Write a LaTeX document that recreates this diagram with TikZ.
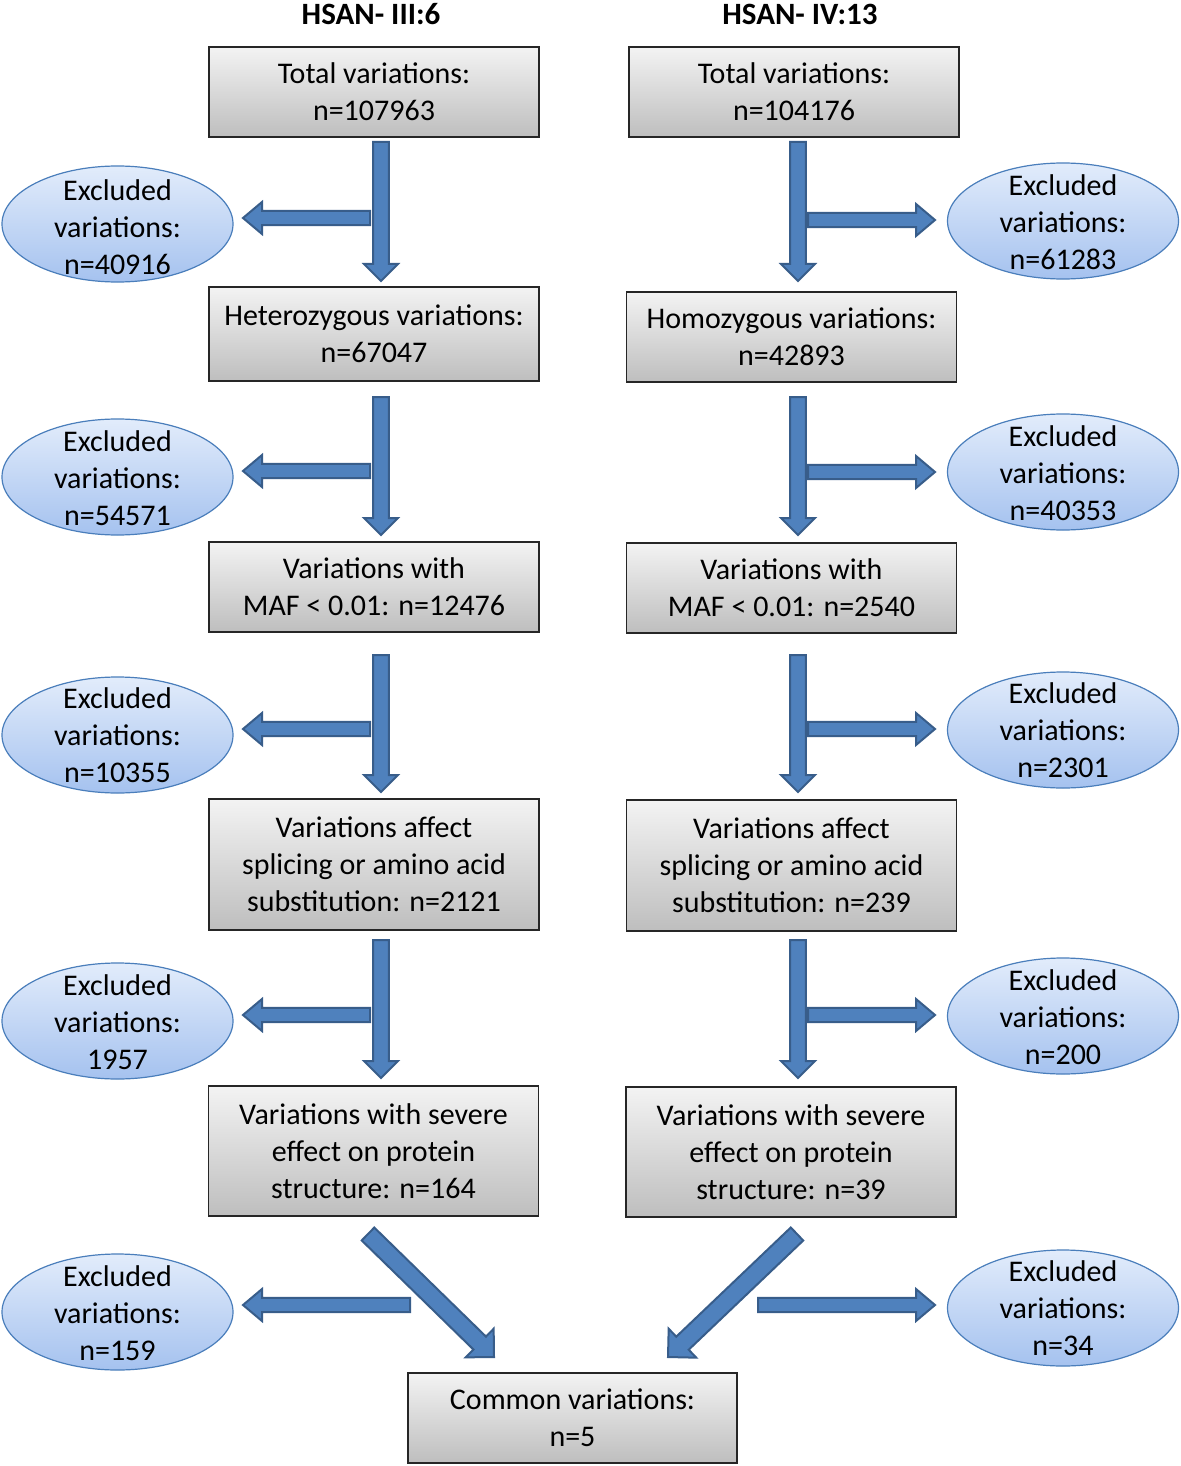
\documentclass[tikz,border=0pt]{standalone}
\usepackage{fontspec}
\setmainfont{Carlito}
\usetikzlibrary{shapes.geometric,calc}
\definecolor{boxtop}{HTML}{F3F3F3}
\definecolor{boxbot}{HTML}{BEBEBE}
\definecolor{elltop}{HTML}{E2ECFB}
\definecolor{ellbot}{HTML}{A5C2EF}
\definecolor{ellline}{HTML}{4A7EBB}
\definecolor{arrfill}{HTML}{4F81BD}
\definecolor{arrline}{HTML}{385D8A}
\tikzset{
  box/.style={draw=black!85, line width=0.8pt, top color=boxtop, bottom color=boxbot,
    minimum width=165pt, inner sep=0pt, align=center, font=\fontsize{15}{18.5}\selectfont},
  excl/.style={ellipse, draw=ellline, line width=0.6pt, top color=elltop, bottom color=ellbot,
    minimum width=115.5pt, minimum height=58pt, inner sep=0pt},
  extext/.style={inner sep=0pt, align=center, font=\fontsize{15}{18.5}\selectfont},
  head/.style={inner sep=0pt, font=\fontsize{15.5}{18}\selectfont\bfseries},
  blockarrow/.style={fill=arrfill, draw=arrline, line width=1pt, line join=miter}
}
\newcommand\blockarr[5]{%
  \path ($(#2)!#5!(#1)$) coordinate (hb);
  \filldraw[blockarrow] ($(#1)!#3!90:(#2)$) -- ($(hb)!#3!90:(#2)$) -- ($(hb)!#4!90:(#2)$) -- (#2)
    -- ($(hb)!#4!-90:(#2)$) -- ($(hb)!#3!-90:(#2)$) -- ($(#1)!#3!-90:(#2)$) -- cycle;}
\begin{document}
\begin{tikzpicture}[x=0.5pt,y=-0.5pt]
\useasboundingbox (0,0) rectangle (1181,1466);
\fill[white] (0,0) rectangle (1181,1466);
% headers
\node[head] (hl) at (371,14) {HSAN- III:6};
\node[head] (hr) at (800,14) {HSAN- IV:13};
% left boxes
\node[box, minimum height=45pt] (lb1) at (374,92) {Total variations:\\n=107963};
\node[box, minimum height=47pt] (lb2) at (374,334) {Heterozygous variations:\\n=67047};
\node[box, minimum height=45pt] (lb3) at (374,587) {Variations with\\MAF < 0.01: n=12476};
\node[box, minimum height=65.5pt] (lb4) at (374,864.5) {Variations affect\\splicing or amino acid\\substitution: n=2121};
\node[box, minimum height=65pt] (lb5) at (373.5,1151) {Variations with severe\\effect on protein\\structure: n=164};
% right boxes
\node[box, minimum height=45pt] (rb1) at (794,92) {Total variations:\\n=104176};
\node[box, minimum height=45pt] (rb2) at (791.5,337) {Homozygous variations:\\n=42893};
\node[box, minimum height=45pt] (rb3) at (791.5,588) {Variations with\\MAF < 0.01: n=2540};
\node[box, minimum height=65.5pt] (rb4) at (791.5,865.5) {Variations affect\\splicing or amino acid\\substitution: n=239};
\node[box, minimum height=65pt] (rb5) at (791,1152) {Variations with severe\\effect on protein\\structure: n=39};
% common
\node[box, minimum width=164.5pt, minimum height=45pt] (cb) at (572.5,1418) {Common variations:\\n=5};
% left ellipses
\node[excl] (le1) at (117.5,224) {};
\node[extext] (le1t) at (117.5,227) {Excluded\\variations:\\n=40916};
\node[excl] (le2) at (117.5,477) {};
\node[extext] (le2t) at (117.5,478) {Excluded\\variations:\\n=54571};
\node[excl] (le3) at (117.5,735) {};
\node[extext] (le3t) at (117.5,735) {Excluded\\variations:\\n=10355};
\node[excl] (le4) at (117.5,1021) {};
\node[extext] (le4t) at (117.5,1022) {Excluded\\variations:\\1957};
\node[excl] (le5) at (117.5,1312) {};
\node[extext] (le5t) at (117.5,1313) {Excluded\\variations:\\n=159};
% right ellipses
\node[excl] (re1) at (1063,221) {};
\node[extext] (re1t) at (1063,222) {Excluded\\variations:\\n=61283};
\node[excl] (re2) at (1063,472) {};
\node[extext] (re2t) at (1063,473) {Excluded\\variations:\\n=40353};
\node[excl] (re3) at (1063,730) {};
\node[extext] (re3t) at (1063,730) {Excluded\\variations:\\n=2301};
\node[excl] (re4) at (1063,1016) {};
\node[extext] (re4t) at (1063,1017) {Excluded\\variations:\\n=200};
\node[excl] (re5) at (1063,1308) {};
\node[extext] (re5t) at (1063,1308) {Excluded\\variations:\\n=34};
% arrow coordinates
\coordinate (lv1s) at (381,142);  \coordinate (lv1e) at (381,281);
\coordinate (lv2s) at (381,397);  \coordinate (lv2e) at (381,535);
\coordinate (lv3s) at (381,655);  \coordinate (lv3e) at (381,792);
\coordinate (lv4s) at (381,940);  \coordinate (lv4e) at (381,1078);
\coordinate (rv1s) at (798,142);  \coordinate (rv1e) at (798,281);
\coordinate (rv2s) at (798,397);  \coordinate (rv2e) at (798,535);
\coordinate (rv3s) at (798,655);  \coordinate (rv3e) at (798,792);
\coordinate (rv4s) at (798,940);  \coordinate (rv4e) at (798,1078);
\coordinate (lh1s) at (370,218);  \coordinate (lh1e) at (243,218);
\coordinate (lh2s) at (370,471);  \coordinate (lh2e) at (243,471);
\coordinate (lh3s) at (370,729);  \coordinate (lh3e) at (243,729);
\coordinate (lh4s) at (370,1015); \coordinate (lh4e) at (243,1015);
\coordinate (lh5s) at (410,1305); \coordinate (lh5e) at (243,1305);
\coordinate (rh1s) at (808,220);  \coordinate (rh1e) at (935,220);
\coordinate (rh2s) at (808,472);  \coordinate (rh2e) at (935,472);
\coordinate (rh3s) at (808,729);  \coordinate (rh3e) at (935,729);
\coordinate (rh4s) at (808,1015); \coordinate (rh4e) at (935,1015);
\coordinate (rh5s) at (758,1305); \coordinate (rh5e) at (935,1305);
\coordinate (ld) at (368,1234);   \coordinate (lde) at (494,1357);
\coordinate (rd) at (797,1234);   \coordinate (rde) at (668,1357);
% horizontal arrows first (under vertical)
\foreach \a in {lh1,lh2,lh3,lh4,lh5,rh1,rh2,rh3,rh4,rh5}{
  \blockarr{\a s}{\a e}{3.6pt}{8pt}{9.5pt}
}
\foreach \a in {lv1,lv2,lv3,lv4,rv1,rv2,rv3,rv4}{
  \blockarr{\a s}{\a e}{3.9pt}{8.5pt}{8.5pt}
}
\blockarr{ld}{lde}{4.5pt}{10pt}{10pt}
\blockarr{rd}{rde}{4.5pt}{10pt}{10pt}
\end{tikzpicture}
\end{document}
